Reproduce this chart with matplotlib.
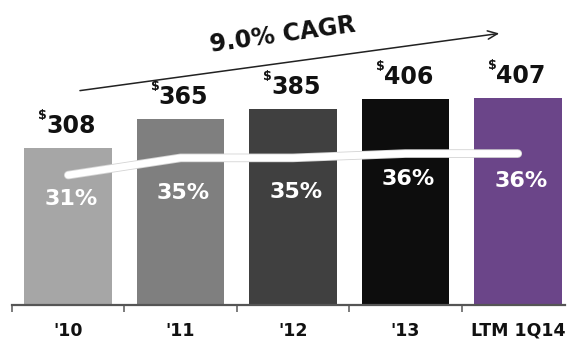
import matplotlib
matplotlib.use("Agg")
import matplotlib.pyplot as plt
import matplotlib.patheffects as pe

# Revenue ($) and margin (%) by period
periods = ["'10", "'11", "'12", "'13", "LTM 1Q14"]
revenue = [308, 365, 385, 406, 407]
margin = [31, 35, 35, 36, 36]
cagr_label = "9.0% CAGR"

bar_colors = ["#a6a6a6", "#7f7f7f", "#404040", "#0d0d0d", "#6b4589"]
# vertical drop (pixels) from the margin line to each percentage label baseline
pct_drop = [30, 41, 40, 31, 33]

W, H, DPI = 569, 344, 100
fig = plt.figure(figsize=(W / DPI, H / DPI), dpi=DPI)
ax = fig.add_axes([12 / W, 39 / H, 553 / W, 305 / H])

x = list(range(len(periods)))
ax.bar(x, revenue, width=0.78, color=bar_colors, zorder=2)
ax.set_xlim(-0.5, 4.42)
ax.set_ylim(0, 600)

for s in ["top", "right", "left"]:
    ax.spines[s].set_visible(False)
ax.spines["bottom"].set_color("#555555")
ax.spines["bottom"].set_linewidth(1.6)
ax.set_yticks([])

# boundary tick marks between categories, labels at bar centres
ax.set_xticks([-0.5, 0.5, 1.5, 2.5, 3.5])
ax.set_xticklabels([])
ax.tick_params(axis="x", which="major", direction="out", length=5,
               width=1.2, color="#666666")
ax.set_xticks(x, minor=True)
ax.set_xticklabels(periods, minor=True, fontsize=12.5, fontweight="bold",
                   color="#111111")
ax.tick_params(axis="x", which="minor", length=0, pad=12)

# value labels with superscript dollar sign
for i, v in enumerate(revenue):
    ax.annotate(f"{v}", (i, v), xytext=(3, 15), textcoords="offset pixels",
                ha="center", va="baseline", fontsize=17, fontweight="bold",
                color="#111111")
    ax.annotate("$", (i, v), xytext=(-21, 29), textcoords="offset pixels",
                ha="right", va="baseline", fontsize=9, fontweight="bold",
                color="#111111")

# margin line on its own scale
ax2 = ax.twinx()
ax2.set_ylim(0.8, 71.7)
ax2.axis("off")
ax2.plot(x, margin, color="white", lw=5, solid_capstyle="round",
         solid_joinstyle="round", zorder=3,
         path_effects=[pe.Stroke(linewidth=6.2, foreground="#d4d4d4"),
                       pe.Normal()])
for i, m in enumerate(margin):
    ax2.annotate(f"{m}%", (i, m), xytext=(3, -pct_drop[i]),
                 textcoords="offset pixels", ha="center", va="baseline",
                 fontsize=16, fontweight="bold", color="white", zorder=4)

# growth arrow and label
ax.annotate("", xy=(3.86, 535), xytext=(0.08, 421),
            arrowprops=dict(arrowstyle="->,head_length=0.7,head_width=0.3",
                            color="#222222", lw=1.1))
ax.text(1.91, 531, cagr_label, rotation=8, rotation_mode="anchor",
        ha="center", va="center", fontsize=17, fontweight="bold",
        color="#111111")

fig.savefig("out.png", dpi=DPI)
